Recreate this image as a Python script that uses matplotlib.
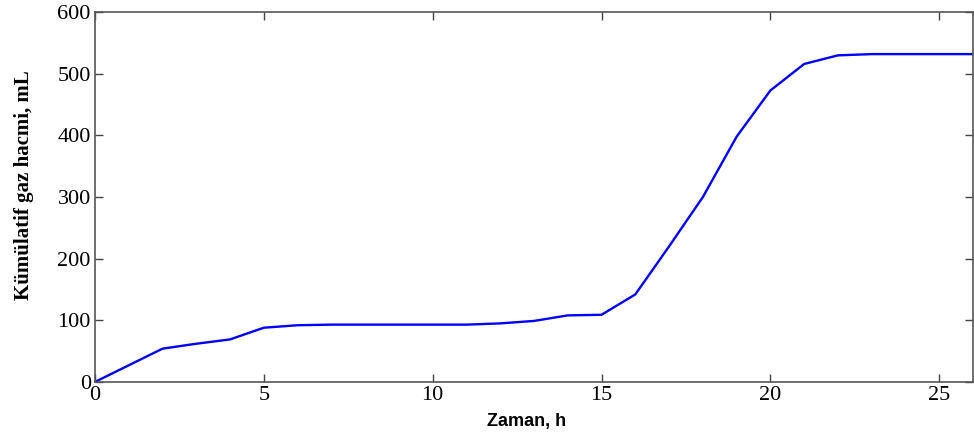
import matplotlib
matplotlib.use("Agg")
import matplotlib.pyplot as plt

# Cumulative gas volume over time
hours = [0, 1, 2, 3, 4, 5, 6, 7, 8, 9, 10, 11, 12, 13, 14, 15, 16, 17, 18, 19, 20, 21, 22, 23, 24, 25, 26]
volume_ml = [0, 27, 54, 62, 69, 88, 92, 93, 93, 93, 93, 93, 95, 99, 108, 109, 142, 220, 300, 398, 473, 516, 530, 532, 532, 532, 532]

x_ticks = [0, 5, 10, 15, 20, 25]
y_ticks = [0, 100, 200, 300, 400, 500, 600]

fig = plt.figure(figsize=(9.74, 4.36), dpi=100)
ax = fig.add_axes([0.0975, 0.124, 0.9015, 0.848])

ax.plot(hours, volume_ml, color="#0000ff", linewidth=1.7)

ax.set_xlim(0, 26)
ax.set_ylim(0, 600)
ax.set_xticks(x_ticks)
ax.set_yticks(y_ticks)

serif = "Liberation Serif"
for lbl in ax.get_xticklabels() + ax.get_yticklabels():
    lbl.set_fontfamily(serif)
    lbl.set_fontsize(16)

ax.tick_params(direction="in", length=6, width=1, color="#444444",
               top=True, right=True, pad=3)
for sp in ax.spines.values():
    sp.set_color("#555555")
    sp.set_linewidth(1.2)

ax.set_xlabel("Zaman, h", fontfamily="Liberation Sans", fontweight="bold",
              fontsize=13)
ax.xaxis.set_label_coords(0.491, -0.085)
ax.set_ylabel("Kümülatif gaz hacmi, mL", fontfamily=serif, fontweight="bold",
              fontsize=15)
ax.yaxis.set_label_coords(-0.07, 0.532)

fig.savefig("out.png", dpi=100)
